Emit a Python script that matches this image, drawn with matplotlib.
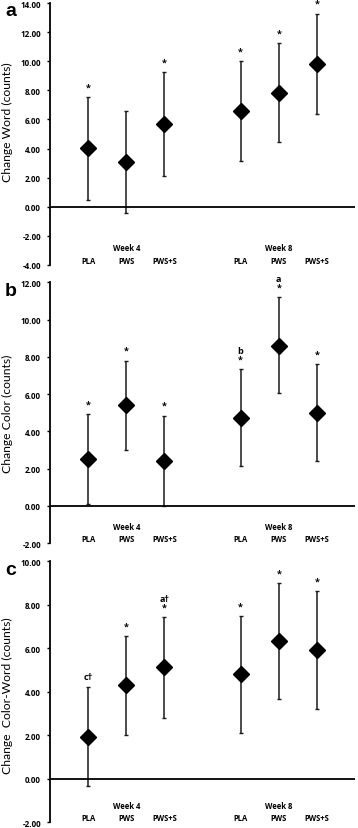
import numpy as np
import matplotlib
matplotlib.use('Agg')
import matplotlib.pyplot as plt
import matplotlib.transforms as mtransforms

plt.rcParams['font.family'] = ['Lato', 'DejaVu Sans']

groups = ['PLA', 'PWS', 'PWS+S', 'PLA', 'PWS', 'PWS+S']
weeks = ['Week 4', 'Week 8']
xpos = [1, 2, 3, 5, 6, 7]

# means and error bar ends
word_mean = [4.01, 3.05, 5.66, 6.57, 7.80, 9.82]
word_lo = [0.48, -0.42, 2.13, 3.13, 4.42, 6.39]
word_hi = [7.52, 6.55, 9.24, 10.02, 11.24, 13.27]
word_marks = ['*', '', '*', '*', '*', '*']

color_mean = [2.52, 5.41, 2.43, 4.72, 8.60, 4.97]
color_lo = [0.12, 3.02, 0.00, 2.12, 6.03, 2.38]
color_hi = [4.94, 7.80, 4.84, 7.33, 11.21, 7.59]
color_marks = ['*', '*', '*', 'b\n*', 'a\n*', '*']

cw_mean = [1.93, 4.29, 5.12, 4.80, 6.32, 5.91]
cw_lo = [-0.35, 2.02, 2.81, 2.10, 3.66, 3.19]
cw_hi = [4.22, 6.56, 7.43, 7.49, 9.00, 8.63]
cw_marks = ['c†', '*', 'a†\n*', '*', '*', '*']

panels = [
    ('a', 'Change Word (counts)', word_mean, word_lo, word_hi, word_marks, (-4, 14), 0.55),
    ('b', 'Change Color (counts)', color_mean, color_lo, color_hi, color_marks, (-2, 12), 0.50),
    ('c', 'Change  Color-Word (counts)', cw_mean, cw_lo, cw_hi, cw_marks, (-2, 10), 0.49),
]

W, H = 358, 829
fig = plt.figure(figsize=(W / 100, H / 100), dpi=100)

# axes boxes in pixels: left, top, right, bottom
boxes = [(50, 4, 355, 266), (50, 283.3, 355, 544), (50, 562.3, 355, 823.3)]

for (letter, ylabel, mean, lo, hi, marks, ylim, lab_y), (l, t, r, b) in zip(panels, boxes):
    ax = fig.add_axes([l / W, 1 - b / H, (r - l) / W, (b - t) / H])
    mean = np.array(mean)
    err = [mean - np.array(lo), np.array(hi) - mean]
    ax.errorbar(xpos, mean, yerr=err, fmt='D', color='black', ms=8.5,
                ecolor='#1a1a1a', elinewidth=1.1, capsize=1.6, capthick=1.0)
    ax.axhline(0, color='black', lw=1.3)
    ax.set_xlim(0, 8)
    ax.set_ylim(*ylim)
    ticks = np.arange(ylim[0], ylim[1] + 0.1, 2)
    ax.set_yticks(ticks)
    ax.set_yticklabels([f'{v:.2f}' for v in ticks], fontsize=5.8,
                       fontweight='bold', family='Open Sans')
    ax.tick_params(axis='y', direction='out', length=2.5, width=1.0, pad=4)
    ax.set_xticks([])
    for s in ['top', 'right', 'bottom']:
        ax.spines[s].set_visible(False)
    ax.spines['left'].set_linewidth(1.3)
    ax.set_ylabel(ylabel, fontsize=8.7)
    ax.yaxis.set_label_coords(-0.12, lab_y)

    trans = mtransforms.blended_transform_factory(ax.transData, ax.transAxes)
    for x, g in zip(xpos, groups):
        ax.text(x, 0.018, g, transform=trans, ha='center', va='center',
                fontsize=5.5, fontweight='bold', family='Open Sans')
    for x, w in zip([2, 6], weeks):
        ax.text(x, 0.065, w, transform=trans, ha='center', va='center',
                fontsize=5.5, fontweight='bold', family='Open Sans')

    for x, top, m in zip(xpos, hi, marks):
        if m:
            ax.annotate(m, (x, top), xytext=(0, 4), textcoords='offset points',
                        ha='center', va='bottom', fontsize=6.5, fontweight='bold',
                        family=['Open Sans', 'DejaVu Sans'], linespacing=0.9,
                        annotation_clip=False)

    fig.text(11 / W, 1 - (t + 8) / H, letter, fontsize=14,
             fontweight='bold', family='Liberation Sans', ha='center', va='center')

fig.savefig('out.png', dpi=100)
